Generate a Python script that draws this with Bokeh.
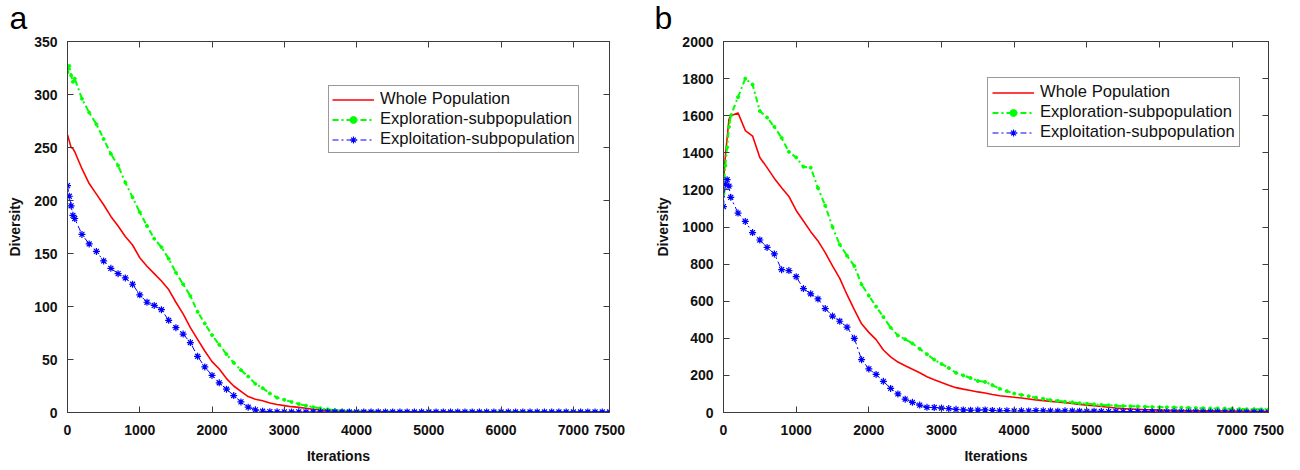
from bokeh.plotting import figure
from bokeh.models import FixedTicker, LinearAxis, Range1d, Legend, LegendItem, Label
from bokeh.layouts import row
from bokeh.embed import file_html
from bokeh.resources import INLINE

# ---------------- data ----------------
ITER = [0, 25, 50, 75] + list(range(100, 7501, 100))
X_TICKS = [0, 1000, 2000, 3000, 4000, 5000, 6000, 7000, 7500]
YA_TICKS = [0, 50, 100, 150, 200, 250, 300, 350]
YB_TICKS = [0, 200, 400, 600, 800, 1000, 1200, 1400, 1600, 1800, 2000]
SERIES = ["Whole Population", "Exploration-subpopulation", "Exploitation-subpopulation"]

# panel a
whole_a = [262, 256, 250, 249,
           246, 230, 216, 206, 196, 185, 176, 166, 158, 146,
           138, 131, 124, 116, 104, 93, 80, 69, 58, 48,
           41, 32, 25, 20, 15, 12.5, 11, 9, 7.5, 6.5,
           5.5, 4.8, 4, 3, 2.5, 2, 1.5, 1.2, 1, 0.9,
           0.8, 0.8, 0.8, 0.7, 0.7, 0.7, 0.7, 0.7, 0.6, 0.6,
           0.6, 0.6, 0.6, 0.6, 0.5, 0.5, 0.5, 0.5, 0.5, 0.5,
           0.5, 0.5, 0.5, 0.5, 0.4, 0.4, 0.4, 0.4, 0.4, 0.4,
           0.4, 0.4, 0.4, 0.4, 0.4]
explor_a = [321, 327, 318, 312,
            315, 296, 283, 272, 258, 244, 233, 217, 203, 189,
            176, 164, 156, 145, 132, 121, 110, 95, 84, 73,
            64, 55, 47, 40, 34, 27, 23, 18, 14, 12,
            10, 8, 6.5, 5, 4, 3, 2.2, 1.6, 1.3, 1.1,
            1.0, 1.0, 0.9, 0.9, 0.9, 0.8, 0.8, 0.8, 0.8, 0.7,
            0.7, 0.7, 0.7, 0.7, 0.7, 0.6, 0.6, 0.6, 0.6, 0.6,
            0.6, 0.6, 0.6, 0.5, 0.5, 0.5, 0.5, 0.5, 0.5, 0.5,
            0.5, 0.5, 0.5, 0.5, 0.5]
exploit_a = [214, 204, 195, 186,
             183, 168, 159, 152, 143, 136, 131, 127, 121, 111,
             104, 101, 97, 87, 80, 74, 66, 53, 43, 35,
             28, 22, 16, 10, 5, 2.5, 1.2, 0.8, 0.6, 0.6,
             0.5, 0.6, 0.5, 0.5, 0.6, 0.5, 0.5, 0.5, 0.5, 0.5,
             0.5, 0.5, 0.5, 0.5, 0.5, 0.5, 0.5, 0.5, 0.5, 0.5,
             0.5, 0.5, 0.5, 0.5, 0.5, 0.5, 0.5, 0.5, 0.5, 0.5,
             0.5, 0.5, 0.5, 0.5, 0.5, 0.5, 0.5, 0.5, 0.5, 0.5,
             0.5, 0.5, 0.5, 0.5, 0.5]

# panel b
whole_b = [1250, 1380, 1480, 1580,
           1600, 1615, 1520, 1490, 1375, 1320, 1262, 1212, 1165, 1089,
           1032, 975, 925, 862, 790, 723, 635, 555, 478, 432,
           393, 337, 300, 272, 252, 233, 214, 193, 176, 162,
           147, 134, 126, 119, 111, 105, 97, 90, 86, 82,
           78, 73, 68, 64, 60, 57, 53, 49, 44, 40,
           36, 32, 28, 24, 21, 19, 17, 15, 14, 13,
           12, 11, 11, 10, 10, 9, 9, 9, 8, 8,
           8, 8, 7, 7, 7]
explor_b = [1180, 1330, 1430, 1540,
            1600, 1700, 1800, 1768, 1625, 1590, 1540, 1480, 1405, 1375,
            1325, 1320, 1210, 1115, 1000, 905, 845, 790, 690, 630,
            571, 515, 458, 415, 395, 372, 343, 314, 285, 262,
            240, 214, 200, 186, 170, 165, 148, 128, 115, 102,
            95, 88, 80, 74, 67, 63, 58, 55, 50, 47,
            44, 41, 39, 37, 35, 34, 33, 31, 30, 29,
            28, 27, 26, 25, 24, 23, 22, 22, 21, 20,
            19, 18, 18, 17, 17]
exploit_b = [1110, 1230, 1255, 1220,
             1160, 1075, 1030, 970, 930, 890, 855, 770, 765, 732,
             668, 640, 612, 560, 520, 492, 460, 400, 285, 235,
             205, 168, 130, 100, 72, 55, 40, 28, 27, 24,
             21, 17, 14, 12, 13, 14, 11, 9, 10, 8,
             9, 8, 10, 9, 8, 7, 9, 8, 7, 6,
             7, 6, 5, 6, 5, 5, 4, 5, 4, 4,
             3, 4, 3, 3, 3, 3, 3, 3, 2, 3,
             2, 2, 2, 2, 2]

FONT = "Liberation Sans"
AXC = "#3c3c3c"
TXT = "#111111"


def style_axis(ax):
    ax.axis_line_color = AXC
    ax.major_tick_line_color = AXC
    ax.major_tick_in = 6
    ax.major_tick_out = 0
    ax.minor_tick_line_color = None
    ax.major_label_text_font = FONT
    ax.major_label_text_font_size = "14px"
    ax.major_label_text_font_style = "bold"
    ax.major_label_text_color = TXT
    ax.axis_label_text_font = FONT
    ax.axis_label_text_font_size = "14px"
    ax.axis_label_text_font_style = "bold"
    ax.axis_label_text_color = TXT


def mirror_axis(ticks):
    # tick marks only (no labels): ticks given as minor ticks
    ax = LinearAxis(ticker=FixedTicker(ticks=[], minor_ticks=ticks))
    ax.axis_line_color = AXC
    ax.major_tick_line_color = None
    ax.minor_tick_line_color = AXC
    ax.minor_tick_in = 6
    ax.minor_tick_out = 0
    ax.major_label_standoff = 0
    return ax


def panel(letter, whole, explor, exploit, ymax, yticks, width, borders,
          legend_loc, pad, letter_xy):
    bl, br, bt, bb = borders
    p = figure(width=width, height=468, output_backend="svg", toolbar_location=None,
               x_range=Range1d(0, 7500), y_range=Range1d(0, ymax),
               min_border_left=bl, min_border_right=br, min_border_top=bt, min_border_bottom=bb)
    p.grid.visible = False
    p.outline_line_color = AXC
    p.background_fill_color = "white"
    p.border_fill_color = "white"

    p.xaxis.ticker = FixedTicker(ticks=X_TICKS)
    p.yaxis.ticker = FixedTicker(ticks=yticks)
    p.xaxis.axis_label = "Iterations"
    p.yaxis.axis_label = "Diversity"
    for ax in p.xaxis + p.yaxis:
        style_axis(ax)
    p.xaxis.major_label_standoff = 12
    p.xaxis.axis_label_standoff = 10
    p.yaxis.major_label_standoff = 10
    p.yaxis.axis_label_standoff = 8

    p.add_layout(mirror_axis(X_TICKS), "above")
    p.add_layout(mirror_axis(yticks), "right")

    r_whole = p.line(ITER, whole, line_color="#ff0000", line_width=1.6)
    l_ex = p.line(ITER, explor, line_color="#00ff00", line_width=2, line_dash="6 3 2 3")
    s_ex = p.scatter(ITER, explor, marker="circle", size=3, fill_color="#00ff00",
                     line_color="#00ff00")
    l_ei = p.line(ITER, exploit, line_color="#0000ff", line_width=1, line_dash="6 3 2 3")
    s_ei = p.scatter(ITER, exploit, marker="asterisk", size=7, line_color="#0000ff",
                     line_width=1.2)

    legend = Legend(items=[LegendItem(label=SERIES[0], renderers=[r_whole]),
                           LegendItem(label=SERIES[1], renderers=[l_ex, s_ex]),
                           LegendItem(label=SERIES[2], renderers=[l_ei, s_ei])],
                    location=legend_loc)
    legend.border_line_color = "#333333"
    legend.border_line_width = 1
    legend.background_fill_color = "white"
    legend.background_fill_alpha = 1
    legend.padding = pad
    legend.spacing = 0
    legend.margin = 0
    legend.label_height = 17
    legend.glyph_height = 17
    legend.glyph_width = 42
    legend.label_standoff = 6
    legend.label_text_font = FONT
    legend.label_text_font_size = "16.6px"
    legend.label_text_color = TXT
    legend.label_text_baseline = "middle"
    p.add_layout(legend)

    # panel letter, placed in the top side panel (canvas pixel position)
    lab = Label(x=letter_xy[0], y=letter_xy[1], x_units="canvas", y_units="canvas",
                text=letter, text_font=FONT, text_font_size="32px", text_color="#000000",
                text_baseline="alphabetic", text_align="left")
    p.add_layout(lab, "above")
    return p


pa = panel("a", whole_a, explor_a, exploit_a, 350, YA_TICKS, 648,
           (67, 39, 41, 55), (261, 259), 3, (9, 17))
pb = panel("b", whole_b, explor_b, exploit_b, 2000, YB_TICKS, 648,
           (75, 28, 41, 56), (264, 265), 4, (6, 17))

layout = row(pa, pb)
open("out.html", "w").write(file_html(layout, INLINE))
